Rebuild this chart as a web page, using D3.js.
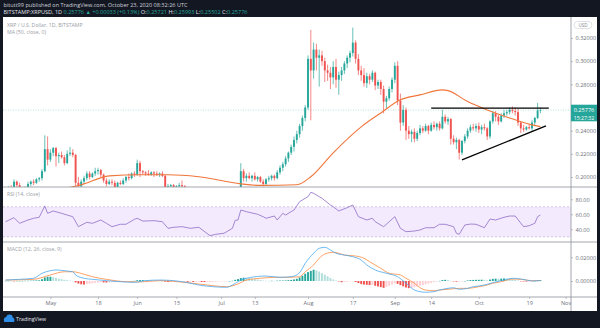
<!DOCTYPE html>
<html>
<head>
<meta charset="utf-8">
<script src="https://cdn.jsdelivr.net/npm/d3@7/dist/d3.min.js"></script>
<style>
  html, body { margin: 0; padding: 0; background: #131722; }
  svg { display: block; }
  text { font-family: "Open Sans", "Noto Sans", sans-serif; }
</style>
</head>
<body>
<svg id="chart" width="600" height="328"></svg>
<script>
// ---------------- data: BITSTAMP XRPUSD, daily ----------------
const firstDay = "2020-04-15";

const opens = [
  .186,.185,.191,.190,.196,.193,.187,.188,.191,.194,.196,.195,.198,.199,.205,.224,
  .215,.221,.225,.218,.219,.217,.212,.220,.221,.219,.195,.192,.196,.199,.203,.200,.203,.205,.206,.202,.197,.194,.196,.195,.191,.195,.194,.197,.200,.199,.203,
  .202,.212,.205,.204,.203,.202,.204,.203,.202,.203,.201,.188,.192,.193,.191,.192,.193,.192,.189,.186,.186,.183,.187,.185,.179,.177,.176,.172,.174,.175,
  .174,.177,.174,.175,.177,.175,.183,.184,.205,.199,.201,.199,.201,.198,.200,.196,.194,.198,.199,.201,.199,.204,.208,.211,.216,.221,.226,.232,.237,.244,.251,
  .260,.302,.292,.310,.303,.305,.300,.292,.290,.286,.295,.284,.288,.292,.298,.303,.307,.316,.302,.292,.288,.281,.287,.284,.290,.279,.282,.276,.265,.268,.276,
  .284,.296,.266,.247,.258,.240,.237,.239,.233,.238,.242,.240,.244,.240,.245,.243,.246,.242,.252,.248,.250,.233,.230,.232,.221,.231,.235,.240,.243,.242,
  .244,.241,.243,.242,.235,.248,.255,.252,.248,.253,.255,.256,.258,.257,.256,.247,.242,.241,.243,.242,.247,.251,.25721
];
const highs = [
  .189,.192,.193,.198,.197,.195,.190,.192,.196,.197,.198,.199,.200,.207,.236,.235,
  .224,.226,.226,.221,.222,.219,.223,.226,.224,.220,.200,.198,.201,.205,.205,.204,.208,.208,.207,.203,.199,.198,.198,.197,.196,.197,.199,.201,.203,.204,.205,
  .215,.214,.206,.205,.206,.205,.205,.205,.204,.205,.202,.194,.194,.194,.193,.195,.197,.193,.190,.188,.187,.189,.188,.186,.180,.178,.177,.175,.177,.176,
  .178,.178,.176,.178,.178,.184,.186,.212,.207,.203,.204,.202,.204,.201,.201,.198,.199,.201,.202,.202,.206,.210,.213,.218,.222,.228,.235,.240,.246,.253,.262,
  .305,.327,.316,.315,.310,.309,.303,.297,.295,.300,.302,.291,.295,.300,.305,.309,.329,.318,.306,.296,.294,.290,.289,.292,.291,.284,.284,.279,.270,.278,.286,
  .299,.300,.272,.262,.260,.244,.241,.242,.240,.245,.244,.246,.245,.247,.248,.247,.248,.258,.254,.252,.251,.236,.234,.233,.232,.237,.242,.245,.246,.246,
  .247,.245,.246,.243,.249,.257,.257,.254,.255,.258,.258,.260,.261,.260,.259,.248,.245,.244,.246,.249,.252,.264,.25993
];
const lows = [
  .183,.181,.188,.189,.191,.185,.184,.186,.189,.192,.193,.194,.196,.197,.204,.210,
  .213,.218,.209,.212,.216,.210,.211,.218,.217,.185,.181,.189,.194,.197,.198,.199,.201,.202,.200,.195,.192,.193,.193,.189,.189,.193,.193,.195,.197,.198,.200,
  .201,.200,.202,.201,.201,.201,.200,.201,.200,.200,.185,.186,.190,.189,.180,.189,.190,.188,.184,.183,.182,.182,.184,.177,.174,.172,.170,.171,.172,.173,
  .173,.172,.173,.174,.174,.174,.181,.183,.196,.196,.198,.196,.197,.196,.195,.192,.193,.196,.197,.197,.198,.202,.205,.209,.213,.219,.222,.229,.234,.240,.248,
  .258,.249,.285,.292,.278,.296,.282,.283,.276,.280,.277,.271,.283,.289,.294,.299,.304,.298,.288,.283,.278,.277,.280,.282,.275,.276,.271,.255,.259,.266,.273,
  .281,.262,.240,.244,.232,.233,.230,.230,.231,.236,.238,.239,.237,.239,.241,.240,.240,.241,.246,.245,.228,.228,.224,.215,.219,.229,.233,.238,.240,.239,
  .238,.237,.240,.232,.233,.246,.248,.245,.247,.251,.253,.254,.255,.253,.244,.238,.239,.240,.241,.240,.244,.250,.25502
];
const closes = [
  .185,.191,.190,.196,.193,.187,.188,.191,.194,.196,.195,.198,.199,.205,.224,.215,
  .221,.225,.218,.219,.217,.212,.220,.221,.219,.195,.192,.196,.199,.203,.200,.203,.205,.206,.202,.197,.194,.196,.195,.191,.195,.194,.197,.200,.199,.203,.202,
  .212,.205,.204,.203,.202,.204,.203,.202,.203,.201,.188,.192,.193,.191,.192,.193,.192,.189,.186,.186,.183,.187,.185,.179,.177,.176,.172,.174,.175,.174,
  .177,.174,.175,.177,.175,.183,.184,.205,.199,.201,.199,.201,.198,.200,.196,.194,.198,.199,.201,.199,.204,.208,.211,.216,.221,.226,.232,.237,.244,.251,.260,
  .302,.292,.310,.303,.305,.300,.292,.290,.286,.295,.284,.288,.292,.298,.303,.307,.316,.302,.292,.288,.281,.287,.284,.290,.279,.282,.276,.265,.268,.276,.284,
  .296,.266,.247,.258,.240,.237,.239,.233,.238,.242,.240,.244,.240,.245,.243,.246,.242,.252,.248,.250,.233,.230,.232,.221,.231,.235,.240,.243,.242,.244,
  .241,.243,.242,.235,.248,.255,.252,.248,.253,.255,.256,.258,.257,.256,.247,.242,.241,.243,.242,.247,.251,.25743,.25776
];

// MA (50, close) read at sample dates
const maDates = ["2020-04-15","2020-04-30","2020-05-12","2020-05-22","2020-06-02","2020-06-12","2020-06-23","2020-07-08",
  "2020-07-15","2020-07-28","2020-08-02","2020-08-10","2020-08-20","2020-08-27","2020-09-03","2020-09-10","2020-09-18",
  "2020-09-20","2020-09-27","2020-10-04","2020-10-12","2020-10-20","2020-10-23"];
const maValues = [0.186,0.188,0.1933,0.2010,0.2019,0.2019,0.2002,0.1941,0.1928,0.1933,0.2002,0.2209,0.2433,0.2553,
  0.2666,0.2709,0.2752,0.2746,0.2651,0.2579,0.2510,0.2450,0.2435];

// RSI (14, close)
const rsiDates = ["2020-04-15","2020-04-18","2020-04-20","2020-04-23","2020-04-25","2020-04-27","2020-04-29","2020-04-30",
  "2020-05-02","2020-05-05","2020-05-07","2020-05-09","2020-05-11","2020-05-14","2020-05-16","2020-05-19","2020-05-21",
  "2020-05-23","2020-05-26","2020-05-28","2020-05-31","2020-06-01","2020-06-03","2020-06-07","2020-06-10","2020-06-12",
  "2020-06-14","2020-06-17","2020-06-20","2020-06-23","2020-06-27","2020-06-29","2020-07-02","2020-07-05","2020-07-06",
  "2020-07-07","2020-07-08","2020-07-10","2020-07-14","2020-07-16","2020-07-17","2020-07-20","2020-07-21","2020-07-23",
  "2020-07-24","2020-07-26","2020-07-27","2020-07-29","2020-07-30","2020-08-01","2020-08-02","2020-08-03","2020-08-05",
  "2020-08-06","2020-08-09","2020-08-10","2020-08-12","2020-08-15","2020-08-17","2020-08-19","2020-08-22","2020-08-24",
  "2020-08-25","2020-08-28","2020-08-30","2020-09-01","2020-09-03","2020-09-05","2020-09-08","2020-09-10","2020-09-12",
  "2020-09-15","2020-09-17","2020-09-19","2020-09-22","2020-09-23","2020-09-24","2020-09-26","2020-09-28","2020-09-30",
  "2020-10-03","2020-10-05","2020-10-07","2020-10-10","2020-10-12","2020-10-14","2020-10-17","2020-10-19","2020-10-21",
  "2020-10-22","2020-10-23"];
const rsiValues = [50.1,55.5,48,52.4,54.7,56,71,61.3,64.4,61.3,59,56.8,43.5,49.3,48,52.4,48,43.5,46.7,46.7,53.3,54.7,51,
  51.5,50.1,41.3,42.7,43.5,41.3,42.7,31.5,33.3,34.7,41.3,52,52.4,65.7,63.5,60,56.8,54.7,57.7,52.4,61.3,59,63.5,65.7,76.8,
  79.1,83.5,89.3,88,83.5,81.3,72.4,70.1,64.4,68.8,72.4,56.8,52.4,54.7,50.1,43.5,50.1,56.8,41.3,36.8,37.7,39.1,42.1,42.1,
  46.7,46.7,43.5,34.7,33.3,45.7,47,46.7,42.1,53.7,52.4,56,57.7,57.7,43.5,44.8,48,56.8,59];

// MACD (12, 26, close, 9)
const macdDates = ["2020-04-15","2020-04-20","2020-04-25","2020-04-28","2020-05-01","2020-05-03","2020-05-07","2020-05-09",
  "2020-05-10","2020-05-13","2020-05-16","2020-05-21","2020-05-26","2020-05-31","2020-06-04","2020-06-09","2020-06-14",
  "2020-06-19","2020-06-23","2020-06-28","2020-07-03","2020-07-05","2020-07-08","2020-07-11","2020-07-17","2020-07-22",
  "2020-07-26","2020-07-29","2020-07-31","2020-08-03","2020-08-05","2020-08-07","2020-08-09","2020-08-11","2020-08-14",
  "2020-08-17","2020-08-20","2020-08-22","2020-08-25","2020-08-29","2020-09-02","2020-09-05","2020-09-08","2020-09-10",
  "2020-09-12","2020-09-15","2020-09-17","2020-09-20","2020-09-22","2020-09-24","2020-09-27","2020-09-29","2020-10-01",
  "2020-10-04","2020-10-06","2020-10-09","2020-10-11","2020-10-13","2020-10-16","2020-10-18","2020-10-20","2020-10-23"];
const macdValues = [.0008,.0014,.0023,.0065,.0087,.0093,.0084,.0078,.0051,.0023,.0014,.0003,-.0006,-.0011,.0003,.0008,.0003,
  -.0014,-.0034,-.0048,-.0053,-.0034,.0008,.0028,.0042,.0031,.0036,.0070,.0149,.0234,.0276,.0284,.0262,.0234,.0219,.0205,
  .0177,.0135,.0093,.0065,.0036,-.0019,-.0076,-.0090,-.0095,-.0090,-.0076,-.0062,-.0057,-.0070,-.0062,-.0048,-.0042,-.0028,
  -.0014,.0003,.0014,.0023,.0017,.0008,.0000,.0003];

const signalDates = ["2020-04-15","2020-04-25","2020-05-01","2020-05-06","2020-05-09","2020-05-13","2020-05-16","2020-05-21",
  "2020-05-28","2020-06-02","2020-06-09","2020-06-14","2020-06-19","2020-06-26","2020-07-03","2020-07-07","2020-07-10",
  "2020-07-15","2020-07-20","2020-07-24","2020-07-29","2020-07-31","2020-08-03","2020-08-05","2020-08-07","2020-08-10",
  "2020-08-12","2020-08-14","2020-08-18","2020-08-21","2020-08-23","2020-08-27","2020-08-30","2020-09-03","2020-09-05",
  "2020-09-08","2020-09-10","2020-09-12","2020-09-15","2020-09-17","2020-09-20","2020-09-22","2020-09-24","2020-09-27",
  "2020-09-29","2020-10-01","2020-10-04","2020-10-06","2020-10-09","2020-10-11","2020-10-13","2020-10-16","2020-10-18",
  "2020-10-20","2020-10-23"];
const signalValues = [.0008,.0014,.0051,.0078,.0078,.0057,.0036,.0014,-.0006,-.0008,.0003,-.0003,-.0014,-.0034,-.0048,
  -.0025,.0008,.0023,.0031,.0031,.0036,.0078,.0135,.0192,.0228,.0242,.0234,.0219,.0211,.0192,.0163,.0107,.0065,.0051,
  .0023,-.0019,-.0057,-.0076,-.0082,-.0076,-.0070,-.0065,-.0062,-.0062,-.0057,-.0048,-.0034,-.0019,-.0006,.0008,.0017,
  .0014,.0008,.0003,.0003];

// MACD histogram, one value per daily bar from firstDay
const histValues = [
  .0001,.0001,0,-.0001,.0001,.0001,.0001,.0002,.0002,.0003,.0004,.0005,.0006,
  .0015,.0030,.0036,.0036,.0032,.0026,.0020,.0015,.0010,.0007,.0004,.0001,
  -.0012,-.0022,-.0028,-.0030,-.0027,-.0024,-.0020,-.0016,-.0013,-.0011,-.0012,-.0013,-.0012,-.0010,-.0010,-.0008,-.0007,-.0005,-.0003,-.0002,0,.0002,
  .0007,.0008,.0008,.0007,.0006,.0005,.0004,.0003,.0002,.0001,
  -.0006,-.0009,-.0009,-.0008,-.0008,-.0007,-.0006,-.0006,-.0007,-.0007,-.0008,-.0006,-.0006,-.0008,-.0009,-.0009,-.0009,-.0007,-.0006,-.0004,-.0003,-.0002,-.0001,0,.0002,
  .0010,.0016,.0025,.0028,.0027,.0025,.0020,.0016,.0012,.0008,.0004,.0002,.0001,.0002,.0001,.0003,.0004,.0004,.0005,.0007,.0009,.0013,.0019,
  .0030,.0045,.0062,.0075,.0085,.0095,.0090,.0080,.0066,.0054,.0040,.0026,.0013,.0004,
  -.0004,-.0010,-.0009,-.0006,-.0004,-.0002,-.0008,-.0018,-.0026,-.0030,-.0032,-.0034,-.0033,-.0040,-.0046,-.0052,-.0058,-.0050,-.0040,-.0030,-.0020,-.0024,
  -.0035,-.0045,-.0055,-.0060,-.0058,-.0052,-.0046,-.0040,-.0034,-.0028,-.0022,-.0016,-.0010,-.0005,
  .0001,.0008,.0010,.0009,.0002,-.0004,-.0006,-.0005,-.0003,0,
  .0005,.0008,.0009,.0010,.0010,.0011,.0010,.0006,.0012,.0018,.0020,.0018,.0020,.0022,.0021,.0019,.0015,.0011,
  .0004,-.0002,-.0004,-.0005,-.0004,-.0002,.0001,.0005,.0007
];

// Drawn trend lines: flat resistance and rising support
const resistanceDates = ["2020-09-14","2020-10-26"];
const resistancePrices = [0.2594, 0.2594];
const supportDates = ["2020-09-25","2020-10-25"];
const supportPrices = [0.2148, 0.2441];

// Axis ticks
const priceTicks = [0.20, 0.22, 0.24, 0.26, 0.28, 0.30, 0.32];
const rsiTicks = [40, 60, 80];
const macdTicks = [0, 0.02];
const timeTickDates = ["2020-05-01","2020-05-18","2020-06-01","2020-06-15","2020-07-01","2020-07-13","2020-08-01",
  "2020-08-17","2020-09-01","2020-09-14","2020-10-01","2020-10-19","2020-11-01"];
const timeTickLabels = ["May","18","Jun","15","Jul","13","Aug","17","Sep","14","Oct","19","Nov"];
const countdown = "15:27:32";

// ---------------- layout ----------------
const svg = d3.select("#chart");
const W = 600, H = 328;
const frameLeft = 3, plotRight = 571, frameRight = 597;
const paneTop = 17, priceBottom = 187, rsiBottom = 242, macdBottom = 297, footerTop = 311;

const UP = "#26a69a", DOWN = "#ef5350";
const AXIS_TEXT = "#6f727c";
const SEP = "#8d9099";

const parse = d3.utcParse("%Y-%m-%d");
const day0 = parse(firstDay);
const bars = closes.map((c, i) => ({
  date: d3.utcDay.offset(day0, i), o: opens[i], h: highs[i], l: lows[i], c, hist: histValues[i]
}));

// scales
const x = d3.scaleUtc().domain([parse("2020-04-13"), parse("2020-11-03")]).range([0, 571.2]);
const yPrice = d3.scaleLinear().domain([0.20, 0.32]).range([177, 38]);
const yRsi = d3.scaleLinear().domain([40, 80]).range([229.3, 199.3]);
const yMacd = d3.scaleLinear().domain([0, 0.02]).range([281, 257.3]);

// background frame
svg.append("rect").attr("width", W).attr("height", H).attr("fill", "#131722");
svg.append("rect").attr("x", frameLeft).attr("y", paneTop)
  .attr("width", frameRight - frameLeft).attr("height", footerTop - paneTop).attr("fill", "#ffffff");

// clip paths per pane
const defs = svg.append("defs");
function clip(id, y0, y1) {
  defs.append("clipPath").attr("id", id).append("rect")
    .attr("x", frameLeft).attr("y", y0).attr("width", plotRight - frameLeft).attr("height", y1 - y0);
  return `url(#${id})`;
}
const priceClip = clip("clip-price", paneTop, priceBottom);
const rsiClip = clip("clip-rsi", priceBottom, rsiBottom);
const macdClip = clip("clip-macd", rsiBottom, macdBottom);

// ---------------- header ----------------
const head = svg.append("g").attr("font-size", 5.6);
head.append("text").attr("x", 3.5).attr("y", 7).attr("fill", "#d1d4dc")
  .attr("textLength", 184).attr("lengthAdjust", "spacingAndGlyphs")
  .text("bitutt99 published on TradingView.com, October 23, 2020 08:32:26 UTC");
const line2 = head.append("text").attr("x", 3.5).attr("y", 13.6).attr("fill", "#d1d4dc")
  .attr("textLength", 244).attr("lengthAdjust", "spacingAndGlyphs");
const last = bars[bars.length - 1];
const prevClose = bars[bars.length - 2].c;
const chg = last.c - prevClose;
[["BITSTAMP:XRPUSD, 1D ", "#e0e3eb"],
 [d3.format(".5f")(last.c) + " \u25B2 +" + d3.format(".5f")(chg) + " (+" + d3.format(".2f")(chg / prevClose * 100) + "%) ", UP],
 ["O:", "#e0e3eb"], [d3.format(".5f")(last.o) + " ", UP],
 ["H:", "#e0e3eb"], [d3.format(".5f")(last.h) + " ", UP],
 ["L:", "#e0e3eb"], [d3.format(".5f")(last.l) + " ", UP],
 ["C:", "#e0e3eb"], [d3.format(".5f")(last.c), UP]
].forEach(([t, col]) => line2.append("tspan").attr("fill", col).text(t));

// ---------------- price pane ----------------
const pg = svg.append("g").attr("clip-path", priceClip);

// last price line
pg.append("line").attr("x1", frameLeft).attr("x2", plotRight)
  .attr("y1", yPrice(last.c)).attr("y2", yPrice(last.c))
  .attr("stroke", UP).attr("stroke-opacity", 0.55).attr("stroke-width", 0.6).attr("stroke-dasharray", "1,1.5");

const bodyW = 1.9;
const candle = pg.selectAll("g.candle").data(bars).join("g").attr("class", "candle")
  .attr("stroke", d => d.c >= d.o ? UP : DOWN).attr("fill", d => d.c >= d.o ? UP : DOWN);
candle.append("line")
  .attr("x1", d => x(d.date)).attr("x2", d => x(d.date))
  .attr("y1", d => yPrice(d.h)).attr("y2", d => yPrice(d.l)).attr("stroke-width", 0.7);
candle.append("rect")
  .attr("x", d => x(d.date) - bodyW / 2).attr("width", bodyW)
  .attr("y", d => yPrice(Math.max(d.o, d.c)))
  .attr("height", d => Math.max(0.7, Math.abs(yPrice(d.o) - yPrice(d.c))))
  .attr("stroke", "none");

// moving average
const maData = maDates.map((d, i) => ({ date: parse(d), v: maValues[i] }));
pg.append("path").datum(maData)
  .attr("fill", "none").attr("stroke", "#f0763a").attr("stroke-width", 1.1)
  .attr("d", d3.line().x(d => x(d.date)).y(d => yPrice(d.v)).curve(d3.curveMonotoneX));

// trend lines
function trend(dates, prices) {
  pg.append("line")
    .attr("x1", x(parse(dates[0]))).attr("y1", yPrice(prices[0]))
    .attr("x2", x(parse(dates[1]))).attr("y2", yPrice(prices[1]))
    .attr("stroke", "#000000").attr("stroke-width", 1.2);
}
trend(resistanceDates, resistancePrices);
trend(supportDates, supportPrices);

// legend
const leg = svg.append("g").attr("font-size", 5.2).attr("fill", "#9a9da6");
leg.append("text").attr("x", 7).attr("y", 26.5).text("XRP / U.S. Dollar, 1D, BITSTAMP");
leg.append("text").attr("x", 7).attr("y", 33.5).text("MA (50, close, 0)");

// ---------------- RSI pane ----------------
const rg = svg.append("g").attr("clip-path", rsiClip);
rg.append("rect").attr("x", frameLeft).attr("width", plotRight - frameLeft)
  .attr("y", yRsi(70)).attr("height", yRsi(30) - yRsi(70)).attr("fill", "#f3ebfd");
[70, 30].forEach(v => rg.append("line").attr("x1", frameLeft).attr("x2", plotRight)
  .attr("y1", yRsi(v)).attr("y2", yRsi(v)).attr("stroke", "#b5a6cc").attr("stroke-width", 0.6)
  .attr("stroke-dasharray", "2,2"));
const rsiData = rsiDates.map((d, i) => ({ date: parse(d), v: rsiValues[i] }));
rg.append("path").datum(rsiData).attr("fill", "none").attr("stroke", "#8e6cc6").attr("stroke-width", 0.8)
  .attr("d", d3.line().x(d => x(d.date)).y(d => yRsi(d.v)));
svg.append("text").attr("x", 7).attr("y", 196).attr("font-size", 5.2).attr("fill", "#9a9da6").text("RSI (14, close)");

// ---------------- MACD pane ----------------
const mg = svg.append("g").attr("clip-path", macdClip);
mg.selectAll("rect.hist").data(bars).join("rect").attr("class", "hist")
  .attr("x", d => x(d.date) - bodyW / 2).attr("width", bodyW)
  .attr("y", d => Math.min(yMacd(0), yMacd(d.hist)))
  .attr("height", d => Math.max(0.4, Math.abs(yMacd(d.hist) - yMacd(0))))
  .attr("fill", (d, i) => {
    const prev = i > 0 ? bars[i - 1].hist : d.hist;
    if (d.hist >= 0) return d.hist >= prev ? "#26a69a" : "#b2dfdb";
    return d.hist < prev ? "#ef5350" : "#ffcdd2";
  });
const macdLine = d3.line().x(d => x(d.date)).y(d => yMacd(d.v)).curve(d3.curveMonotoneX);
mg.append("path").datum(signalDates.map((d, i) => ({ date: parse(d), v: signalValues[i] })))
  .attr("fill", "none").attr("stroke", "#ff8a3d").attr("stroke-width", 0.8).attr("d", macdLine);
mg.append("path").datum(macdDates.map((d, i) => ({ date: parse(d), v: macdValues[i] })))
  .attr("fill", "none").attr("stroke", "#4aa8ee").attr("stroke-width", 0.8).attr("d", macdLine);
svg.append("text").attr("x", 7).attr("y", 251).attr("font-size", 5.2).attr("fill", "#9a9da6").text("MACD (12, 26, close, 9)");

// ---------------- separators and axes ----------------
[priceBottom, rsiBottom, macdBottom].forEach(y => svg.append("line")
  .attr("x1", frameLeft).attr("x2", frameRight).attr("y1", y).attr("y2", y)
  .attr("stroke", SEP).attr("stroke-width", 0.8));
svg.append("line").attr("x1", plotRight).attr("x2", plotRight).attr("y1", paneTop).attr("y2", footerTop)
  .attr("stroke", SEP).attr("stroke-width", 0.8);

function styleAxis(g) {
  g.select(".domain").remove();
  g.selectAll(".tick line").attr("stroke", "#9598a1").attr("stroke-width", 0.6);
  g.selectAll(".tick text").attr("fill", AXIS_TEXT).attr("font-size", 5.6)
    .attr("font-family", "'Open Sans', 'Noto Sans', sans-serif");
}
// the current-price tag covers the tick label closest to the last close
const last0 = closes[closes.length - 1];
const visiblePriceTicks = priceTicks.filter(t => Math.abs(yPrice(t) - yPrice(last0)) > 9);
svg.append("g").attr("transform", `translate(${plotRight},0)`)
  .call(d3.axisRight(yPrice).tickValues(visiblePriceTicks).tickFormat(d3.format(".5f")).tickSize(2).tickPadding(2.5))
  .call(styleAxis);
svg.append("g").attr("transform", `translate(${plotRight},0)`)
  .call(d3.axisRight(yRsi).tickValues(rsiTicks).tickFormat(d3.format(".2f")).tickSize(2).tickPadding(2.5))
  .call(styleAxis);
svg.append("g").attr("transform", `translate(${plotRight},0)`)
  .call(d3.axisRight(yMacd).tickValues(macdTicks).tickFormat(d3.format(".5f")).tickSize(2).tickPadding(2.5))
  .call(styleAxis);
svg.append("g").attr("transform", `translate(0,${macdBottom})`)
  .call(d3.axisBottom(x).tickValues(timeTickDates.map(parse))
    .tickFormat((d, i) => timeTickLabels[i]).tickSize(2).tickPadding(2.5))
  .call(styleAxis);

// current price tag
const tagY = yPrice(last.c);
svg.append("rect").attr("x", plotRight).attr("y", tagY - 5.4).attr("width", frameRight - plotRight).attr("height", 16.6)
  .attr("fill", UP);
svg.append("text").attr("x", 584).attr("y", tagY + 2).attr("text-anchor", "middle")
  .attr("font-size", 5.6).attr("fill", "#ffffff").text(d3.format(".5f")(last.c));
svg.append("text").attr("x", 584).attr("y", tagY + 9.6).attr("text-anchor", "middle")
  .attr("font-size", 5.2).attr("fill", "#ffffff").text(countdown);

// currency badge
svg.append("rect").attr("x", 574).attr("y", 21.5).attr("width", 18).attr("height", 7).attr("rx", 3.5)
  .attr("fill", "#ffffff").attr("stroke", "#c9ccd4").attr("stroke-width", 0.6);
svg.append("text").attr("x", 583).attr("y", 26.7).attr("text-anchor", "middle")
  .attr("font-size", 4.6).attr("fill", "#7f828c").text("USD");

// ---------------- footer ----------------
const logo = svg.append("g").attr("fill", "#2f8fe8");
[[6.5, 319.5, 2.6], [9.5, 317.8, 3.2], [12.2, 319.8, 2.2]].forEach(([cx, cy, r]) =>
  logo.append("circle").attr("cx", cx).attr("cy", cy).attr("r", r));
logo.append("rect").attr("x", 4).attr("y", 319.5).attr("width", 10.4).attr("height", 2.6).attr("rx", 1.2);
svg.append("text").attr("x", 16).attr("y", 320.8).attr("font-size", 5.8).attr("fill", "#e8eaf0")
  .attr("textLength", 30).attr("lengthAdjust", "spacingAndGlyphs").text("TradingView");
</script>
</body>
</html>
